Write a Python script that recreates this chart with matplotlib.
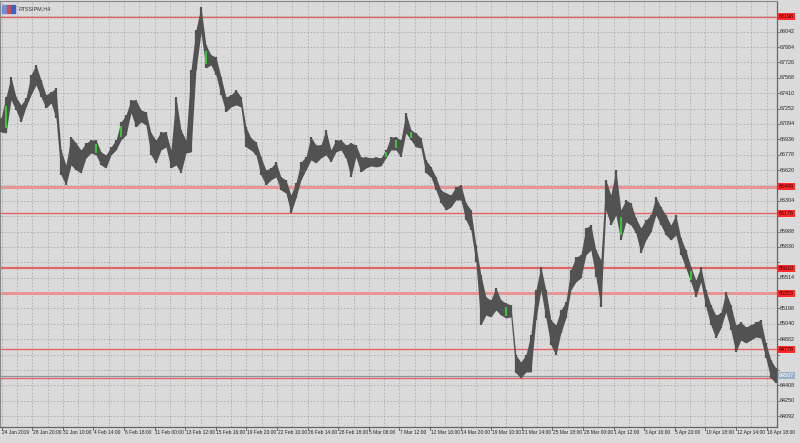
import numpy as np
import matplotlib
matplotlib.use("Agg")
import matplotlib.pyplot as plt
import matplotlib.transforms as mtransforms

# bar highs / lows (price), one bar every step
highs = [67155, 67371, 67577, 67371, 67289, 67361, 67597, 67700, 67546, 67392,
         67422, 67463, 66826, 66672, 66960, 66898, 66826, 66898, 66929, 66929,
         66806, 66775, 66857, 66929, 67114, 67186, 67340, 67340, 67237, 67217,
         67001, 66929, 67011, 67011, 66826, 67371, 67032, 66929, 67648, 68060,
         68296, 67905, 67803, 67782, 67577, 67371, 67392, 67443, 67371, 67063,
         66950, 66909, 66754, 66621, 66641, 66703, 66549, 66518, 66364, 66487,
         66703, 66754, 66960, 66878, 66878, 67032, 66826, 66929, 66929, 66878,
         66898, 66878, 66754, 66754, 66744, 66754, 66744, 66826, 66960, 66960,
         66929, 67207, 67032, 67001, 66950, 66724, 66652, 66549, 66415, 66384,
         66364, 66446, 66467, 66282, 66210, 65850, 65542, 65315, 65285, 65408,
         65285, 65254, 65233, 64719, 64647, 64719, 64925, 65387, 65624, 65387,
         65079, 65028, 65182, 65264, 65593, 65727, 65747, 66025, 66055, 65798,
         65696, 66518, 66364, 66621, 66210, 66312, 66282, 66127, 66025, 66107,
         66158, 66343, 66240, 66158, 66055, 66158, 65922, 65798, 65624, 65490,
         65624, 65387, 65233, 65130, 65151, 65367, 65233, 65028, 65058, 65007,
         65028, 65058, 65079, 64843, 64668, 64586]
lows = [67011, 67001, 67340, 67237, 67114, 67268, 67392, 67494, 67371, 67258,
        67309, 67155, 66569, 66467, 66672, 66621, 66590, 66744, 66795, 66775,
        66672, 66641, 66775, 66826, 66929, 66980, 67207, 67063, 67114, 67083,
        66775, 66693, 66826, 66857, 66641, 66672, 66590, 66795, 66806, 67648,
        68029, 67669, 67700, 67597, 67392, 67217, 67268, 67289, 67268, 66857,
        66826, 66775, 66569, 66467, 66518, 66549, 66415, 66384, 66179, 66333,
        66518, 66621, 66724, 66693, 66744, 66775, 66703, 66806, 66826, 66744,
        66549, 66754, 66600, 66641, 66662, 66652, 66662, 66744, 66826, 66826,
        66754, 67001, 66929, 66857, 66847, 66590, 66549, 66415, 66282, 66210,
        66240, 66312, 66312, 66107, 66004, 65675, 65028, 65130, 65110, 65182,
        65130, 65100, 65110, 64534, 64483, 64545, 64545, 65079, 65387, 65100,
        64822, 64719, 64945, 65100, 65387, 65470, 65511, 65747, 65798, 65521,
        65213, 66210, 66055, 66158, 65901, 66086, 66055, 65973, 65768, 65901,
        65983, 66158, 66055, 65953, 65901, 65953, 65747, 65614, 65470, 65315,
        65470, 65213, 65028, 64894, 64997, 65161, 64976, 64750, 64873, 64843,
        64873, 64904, 64894, 64688, 64483, 64431]
green_bars = [1, 19, 24, 41, 77, 79, 82, 101, 124, 138]

# horizontal levels (the last one has its tag hidden behind the price tag)
red_levels = [68196, 66449, 66176, 65610, 65353, 64778, 64486]
red_widths = [1.0, 2.2, 1.0, 1.6, 2.2, 1.0, 1.0]
red_tagged = [True, True, True, True, True, True, False]
current_price = 64507

grid_prices = [68200 - 158 * k for k in range(27)]
date_labels = ["24 Jan 2019", "28 Jan 20:00", "31 Jan 10:00", "4 Feb 14:00",
               "6 Feb 18:00", "11 Feb 00:00", "13 Feb 12:00", "15 Feb 16:00",
               "19 Feb 20:00", "22 Feb 10:00", "26 Feb 14:00", "28 Feb 18:00",
               "5 Mar 08:00", "7 Mar 12:00", "12 Mar 16:00", "14 Mar 20:00",
               "19 Mar 10:00", "21 Mar 14:00", "25 Mar 18:00", "28 Mar 00:00",
               "1 Apr 12:00", "3 Apr 16:00", "5 Apr 20:00", "10 Apr 18:00",
               "12 Apr 14:00", "16 Apr 18:00"]
label_step = 6.12  # bars between date labels

small = ["Liberation Sans", "DejaVu Sans"]
fs = 3.5

bg = "#dadada"
fig = plt.figure(figsize=(8, 4.43), dpi=100, facecolor=bg)
ax = fig.add_axes([0.0, 0.036, 0.971, 0.962])
ax.set_facecolor(bg)

x = np.arange(len(highs))
ax.set_xlim(-0.2, 155.2)
ax.set_ylim(63979, 68358)

# grid
tick_pos = 0.14 + label_step * np.arange(len(date_labels))
for xv in np.concatenate([tick_pos, tick_pos + label_step / 2]):
    ax.axvline(xv, color="#a8aeb6", lw=0.6, ls=(0, (2, 2)), zorder=1)
for p in grid_prices:
    ax.axhline(p, color="#a8aeb6", lw=0.6, ls=(0, (2, 2)), zorder=1)

# levels
for lv, w in zip(red_levels, red_widths):
    ax.axhline(lv, color="#e06666" if w < 2 else "#e79595", lw=w, zorder=2)
ax.axhline(current_price, color="#8c96a0", lw=0.9, zorder=2)

# price bars
bar_col = "#525252"
ax.fill_between(x, lows, highs, color=bar_col, lw=0, zorder=3)
ax.vlines(x, lows, highs, color=bar_col, lw=1.6, zorder=3)
gx = np.array(green_bars)
gl = np.array(lows)[gx]
gh = np.array(highs)[gx]
ax.vlines(gx, gl + (gh - gl) * 0.15, gh - (gh - gl) * 0.25, color="#33dd33", lw=1.2, zorder=4)

# frame
for s in ["left", "top"]:
    ax.spines[s].set_color("#888888")
    ax.spines[s].set_linewidth(0.8)
for s in ["right", "bottom"]:
    ax.spines[s].set_color("#666666")
    ax.spines[s].set_linewidth(0.9)
ax.set_xticks([])
ax.set_yticks([])

# right price scale (tags sit on top of the plain labels)
tr_y = mtransforms.blended_transform_factory(ax.transAxes, ax.transData)
tagged = [lv for lv, t in zip(red_levels, red_tagged) if t] + [current_price]
for p in grid_prices[1:]:
    ax.plot([1.0, 1.003], [p, p], transform=tr_y, color="#666666", lw=0.6, clip_on=False)
    if min(abs(p - t) for t in tagged) < 70:
        continue
    ax.text(1.004, p, f"{p}", transform=tr_y, fontsize=fs + 0.4, family=small, color="#222222",
            ha="left", va="center", clip_on=False)
for lv in tagged[:-1]:
    ax.text(1.003, lv, f"{lv}", transform=tr_y, fontsize=fs + 0.4, family=small, color="#2a0000",
            ha="left", va="center", clip_on=False, zorder=6,
            bbox=dict(boxstyle="square,pad=0.15", fc="#ff2a2a", ec="none"))
ax.text(1.003, current_price, f"{current_price}", transform=tr_y, fontsize=fs + 0.4, family=small,
        color="white", ha="left", va="center", clip_on=False, zorder=7,
        bbox=dict(boxstyle="square,pad=0.15", fc="#9fb0c4", ec="none"))

# time scale
tr_x = mtransforms.blended_transform_factory(ax.transData, ax.transAxes)
for pos, lab in zip(tick_pos, date_labels):
    ax.plot([pos, pos], [0, -0.008], transform=tr_x, color="#555555", lw=0.6, clip_on=False)
    ax.text(pos + 0.12, -0.007, lab, transform=tr_x, fontsize=fs, family=small,
            color="#222222", ha="left", va="top", clip_on=False)

# chart caption with small icon
for i, c in enumerate(["#6c8fd8", "#d84a4a", "#3b62c9"]):
    ax.add_patch(plt.Rectangle((0.003 + i * 0.0055, 0.972), 0.005, 0.018,
                               transform=ax.transAxes, color=c, zorder=8))
ax.text(0.024, 0.981, "RTSSIPM,H4", transform=ax.transAxes, fontsize=fs + 0.4, family=small,
        color="#333333", ha="left", va="center")

fig.savefig("out.png", dpi=100, facecolor=bg)
